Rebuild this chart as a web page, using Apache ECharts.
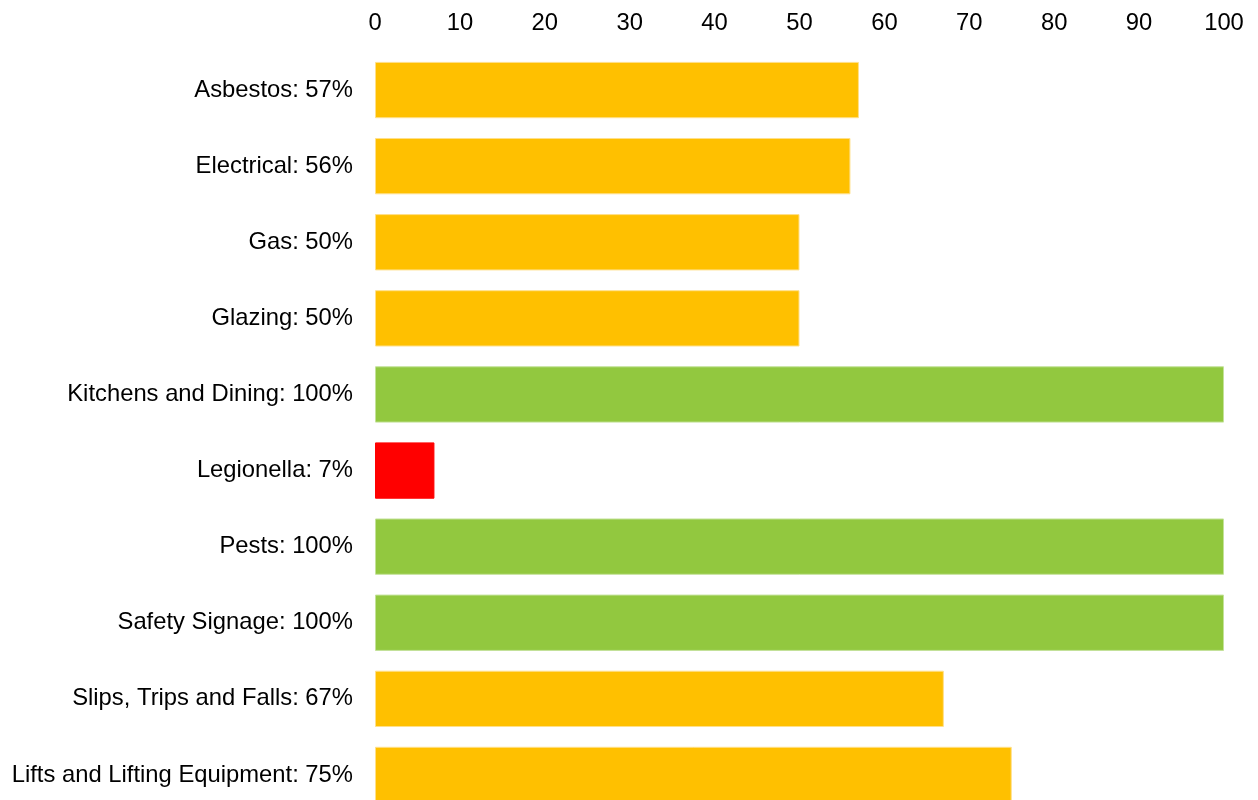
<!DOCTYPE html>
<html>
<head>
<meta charset="utf-8">
<script src="https://cdn.jsdelivr.net/npm/echarts@6/dist/echarts.min.js"></script>
<style>html,body{margin:0;padding:0;background:#fff;overflow:hidden}#c{width:1258px;height:813px}</style>
</head>
<body>
<div id="c"></div>
<script>
const categories = ["Asbestos", "Electrical", "Gas", "Glazing", "Kitchens and Dining", "Legionella", "Pests", "Safety Signage", "Slips, Trips and Falls", "Lifts and Lifting Equipment"];
const values = [57, 56, 50, 50, 100, 7, 100, 100, 67, 75];
const xTicks = [0, 10, 20, 30, 40, 50, 60, 70, 80, 90, 100];

function colorFor(v) {
  if (v >= 100) return '#92C83F';
  if (v < 20) return '#FF0000';
  return '#FFC000';
}
function edgeFor(v) {
  if (v >= 100) return '#C4E29A';
  if (v < 20) return '#FF0000';
  return '#FFE08A';
}

const FONT = 'Liberation Sans, Arial, Helvetica, sans-serif';
const chart = echarts.init(document.getElementById('c'), null, {renderer: 'canvas'});
chart.setOption({
  animation: false,
  grid: {left: 375, right: 34, top: 52, bottom: 0, containLabel: false},
  xAxis: {
    type: 'value', position: 'top', min: xTicks[0], max: xTicks[xTicks.length - 1], interval: 10,
    axisLine: {show: false}, axisTick: {show: false}, splitLine: {show: false},
    axisLabel: {color: '#000', fontSize: 23.8, fontFamily: FONT, margin: 17}
  },
  yAxis: {
    type: 'category', inverse: true, data: categories.map((c, i) => c + ': ' + values[i] + '%'),
    axisLine: {show: false}, axisTick: {show: false}, splitLine: {show: false},
    axisLabel: {color: '#000', fontSize: 23.8, fontFamily: FONT, margin: 22}
  },
  series: [{
    type: 'bar', barCategoryGap: '26%',
    data: values.map(v => ({value: v, itemStyle: {color: colorFor(v), borderColor: edgeFor(v), borderWidth: 1}}))
  }]
});
</script>
</body>
</html>
